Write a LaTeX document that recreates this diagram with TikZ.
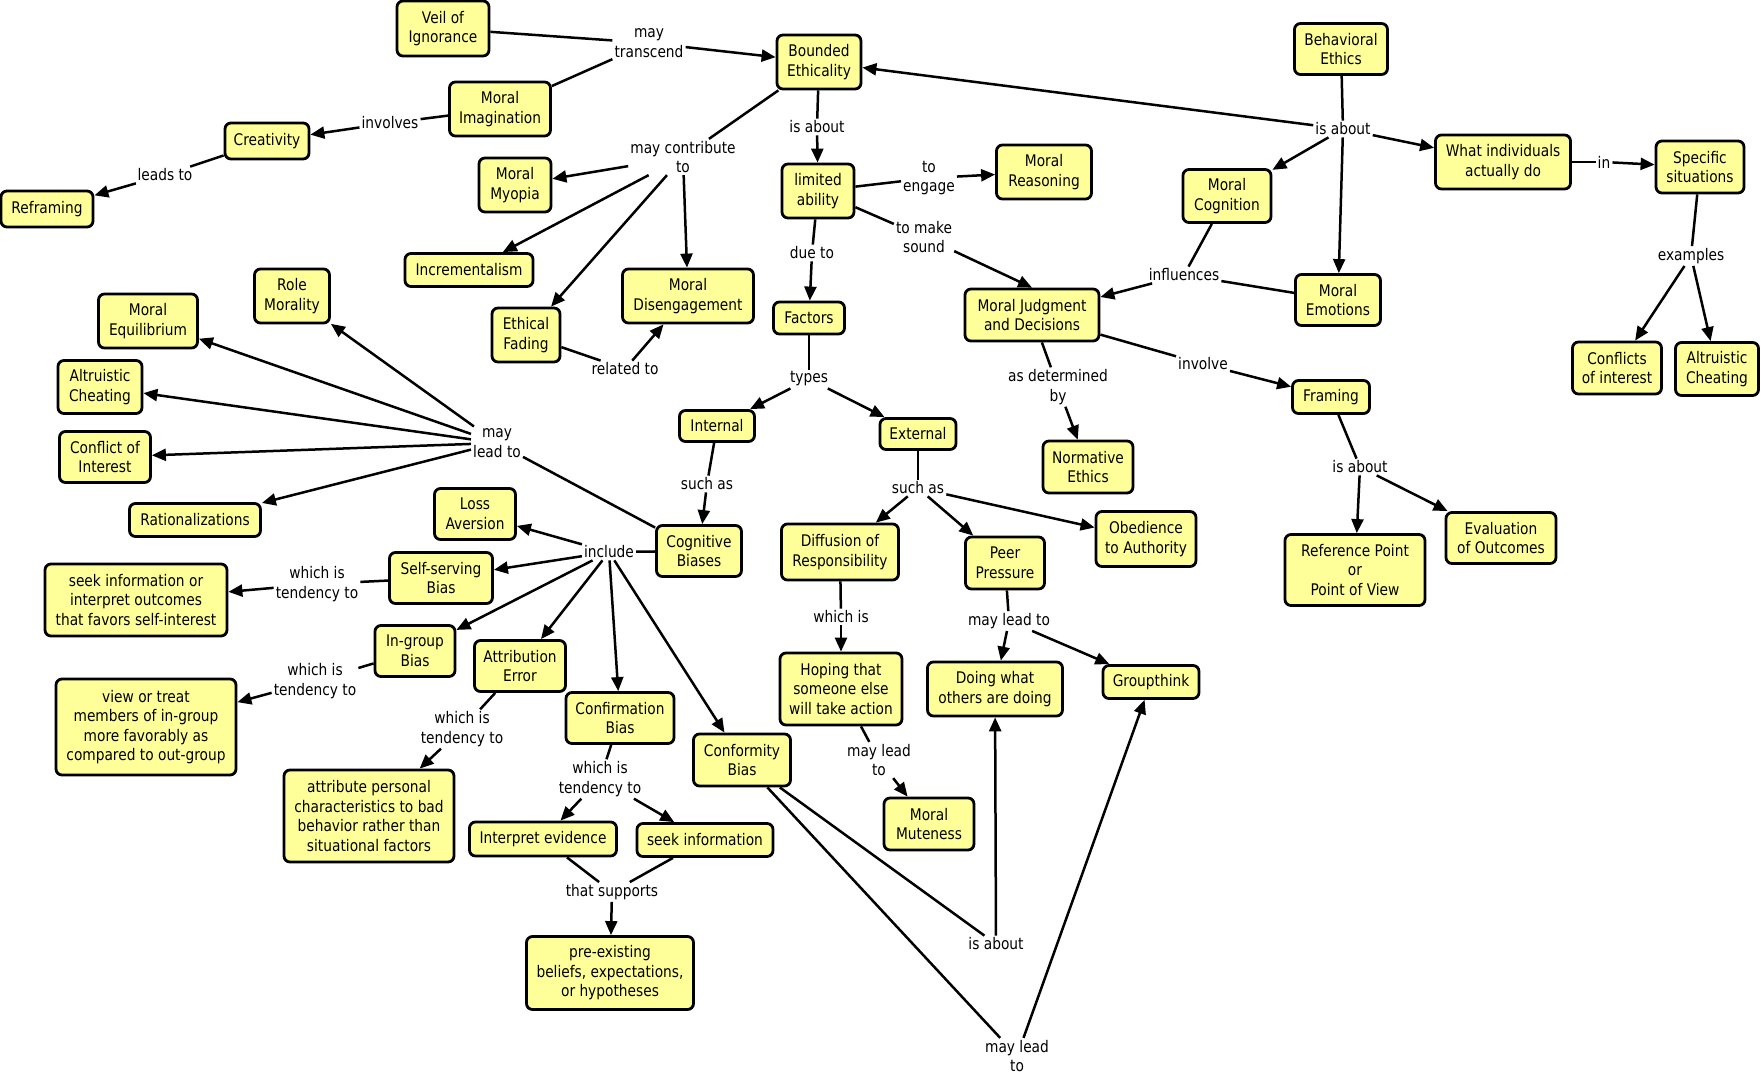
\documentclass[tikz,border=0pt]{standalone}
\usepackage{fontspec}
\setmainfont{DejaVu Sans}[FakeStretch=0.86]
\usetikzlibrary{arrows.meta}
\definecolor{cfill}{RGB}{255,255,153}
\newcommand\cmfont{\fontsize{16}{19.5}\selectfont}
\begin{document}
\begin{tikzpicture}[x=1pt,y=-1pt,
  concept/.style={draw=black, line width=2.8pt, rounded corners=6pt, fill=cfill, align=center, inner sep=0pt, font=\cmfont},
  lab/.style={align=center, inner sep=2pt, font=\cmfont},
  link/.style={line width=2.5pt},
  arr/.style={line width=2.5pt, -{Triangle[length=14pt,width=12pt]}}]
\fill[white] (0,0) rectangle (1761,1076);
\useasboundingbox (0,0) rectangle (1761,1076);

% ---------- concepts ----------
\node[concept, minimum width=92pt, minimum height=55pt] (veil) at (443,28.5) {Veil of\\Ignorance};
\node[concept, minimum width=101pt, minimum height=54pt] (mimag) at (500,109) {Moral\\Imagination};
\node[concept, minimum width=84pt, minimum height=36pt] (creat) at (267,141) {Creativity};
\node[concept, minimum width=92pt, minimum height=36pt] (refr) at (47,209) {Reframing};
\node[concept, minimum width=72pt, minimum height=54pt] (myop) at (515,185) {Moral\\Myopia};
\node[concept, minimum width=128pt, minimum height=33pt] (incr) at (469,270) {Incrementalism};
\node[concept, minimum width=75pt, minimum height=54pt] (role) at (292,296) {Role\\Morality};
\node[concept, minimum width=99pt, minimum height=54pt] (equil) at (148,321) {Moral\\Equilibrium};
\node[concept, minimum width=68pt, minimum height=54pt] (fading) at (526,335) {Ethical\\Fading};
\node[concept, minimum width=84pt, minimum height=53pt] (altl) at (100,387) {Altruistic\\Cheating};
\node[concept, minimum width=91pt, minimum height=51pt] (coil) at (105,457) {Conflict of\\Interest};
\node[concept, minimum width=131pt, minimum height=33pt] (ratio) at (195,520) {Rationalizations};
\node[concept, minimum width=81pt, minimum height=51pt] (loss) at (475,514) {Loss\\Aversion};
\node[concept, minimum width=103pt, minimum height=51pt] (selfs) at (441,578) {Self-serving\\Bias};
\node[concept, minimum width=182pt, minimum height=72pt] (seekfav) at (136,600) {seek information or\\interpret outcomes\\that favors self-interest};
\node[concept, minimum width=80pt, minimum height=51pt] (ingrp) at (415,651) {In-group\\Bias};
\node[concept, minimum width=91pt, minimum height=51pt] (attr) at (520,666) {Attribution\\Error};
\node[concept, minimum width=180pt, minimum height=96pt] (viewt) at (146,727) {view or treat\\members of in-group\\more favorably as\\compared to out-group};
\node[concept, minimum width=170pt, minimum height=92pt] (attrp) at (369,816) {attribute personal\\characteristics to bad\\behavior rather than\\situational factors};
\node[concept, minimum width=108pt, minimum height=51pt] (confb) at (620,718) {Confirmation\\Bias};
\node[concept, minimum width=97pt, minimum height=52pt] (conf) at (742,760) {Conformity\\Bias};
\node[concept, minimum width=147pt, minimum height=34pt] (interp) at (543,839) {Interpret evidence};
\node[concept, minimum width=136pt, minimum height=33pt] (seeki) at (705,840) {seek information};
\node[concept, minimum width=167pt, minimum height=73pt] (preex) at (610,973) {pre-existing\\beliefs, expectations,\\or hypotheses};
\node[concept, minimum width=84pt, minimum height=54pt] (bounded) at (819,62) {Bounded\\Ethicality};
\node[concept, minimum width=72pt, minimum height=54pt] (limab) at (818,191) {limited\\ability};
\node[concept, minimum width=95pt, minimum height=54pt] (reas) at (1044,172) {Moral\\Reasoning};
\node[concept, minimum width=131pt, minimum height=54pt] (diseng) at (688,296) {Moral\\Disengagement};
\node[concept, minimum width=71pt, minimum height=32pt] (factors) at (809,318) {Factors};
\node[concept, minimum width=134pt, minimum height=52pt] (mjd) at (1032,315) {Moral Judgment\\and Decisions};
\node[concept, minimum width=75pt, minimum height=31pt] (internal) at (717,426) {Internal};
\node[concept, minimum width=76pt, minimum height=31pt] (external) at (918,434) {External};
\node[concept, minimum width=90pt, minimum height=52pt] (norm) at (1088,467) {Normative\\Ethics};
\node[concept, minimum width=85pt, minimum height=51pt] (cogb) at (699,551) {Cognitive\\Biases};
\node[concept, minimum width=117pt, minimum height=56pt] (diff) at (840,552) {Diffusion of\\Responsibility};
\node[concept, minimum width=79pt, minimum height=52pt] (peer) at (1005,563) {Peer\\Pressure};
\node[concept, minimum width=100pt, minimum height=55pt] (obed) at (1146,539) {Obedience\\to Authority};
\node[concept, minimum width=122pt, minimum height=72pt] (hoping) at (841,689) {Hoping that\\someone else\\will take action};
\node[concept, minimum width=135pt, minimum height=54pt] (doing) at (995,689) {Doing what\\others are doing};
\node[concept, minimum width=96pt, minimum height=33pt] (group) at (1151,682) {Groupthink};
\node[concept, minimum width=90pt, minimum height=52pt] (mute) at (929,824) {Moral\\Muteness};
\node[concept, minimum width=93pt, minimum height=51pt] (behav) at (1341,49) {Behavioral\\Ethics};
\node[concept, minimum width=88pt, minimum height=53pt] (mcog) at (1227,196) {Moral\\Cognition};
\node[concept, minimum width=85pt, minimum height=51pt] (memo) at (1338,300) {Moral\\Emotions};
\node[concept, minimum width=135pt, minimum height=54pt] (what) at (1503,162) {What individuals\\actually do};
\node[concept, minimum width=88pt, minimum height=52pt] (spec) at (1700,167) {Specific\\situations};
\node[concept, minimum width=89pt, minimum height=52pt] (coir) at (1617,368) {Conflicts\\of interest};
\node[concept, minimum width=83pt, minimum height=53pt] (altr) at (1717,369) {Altruistic\\Cheating};
\node[concept, minimum width=77pt, minimum height=33pt] (framing) at (1331,397) {Framing};
\node[concept, minimum width=140pt, minimum height=71pt] (refp) at (1355,570) {Reference Point\\or\\Point of View};
\node[concept, minimum width=110pt, minimum height=51pt] (evalo) at (1501,538) {Evaluation\\of Outcomes};

% ---------- linking phrases ----------
\node[lab] (lmt) at (649,43) {may\\transcend};
\node[lab] (linv) at (390,123) {involves};
\node[lab] (llead) at (165,175) {leads to};
\node[lab] (lcontrib) at (683,157) {may contribute\\to};
\node[lab] (lisab1) at (817,127) {is about};
\node[lab] (lengage) at (929,178) {to\\engage};
\node[lab] (lsound) at (924,237) {to make\\sound};
\node[lab] (ldue) at (812,253) {due to};
\node[lab] (lrel) at (625,369) {related to};
\node[lab] (ltypes) at (809,379) {types};
\node[lab] (lsuchi) at (707,484) {such as};
\node[lab] (lsuche) at (918,488) {such as};
\node[lab] (ldet) at (1058,387) {as determined\\by};
\node[lab] (lisab2) at (1343,129) {is about};
\node[lab] (lin) at (1604,162) {in};
\node[lab] (lex) at (1691,256) {examples};
\node[lab] (linfl) at (1184,275) {influences};
\node[lab] (linvolve) at (1203,364) {involve};
\node[lab] (lisab3) at (1360,467) {is about};
\node[lab] (lmlt) at (497,443) {may\\lead to};
\node[lab] (lincl) at (609,552) {include};
\node[lab] (lwit1) at (317,584) {which is\\tendency to};
\node[lab] (lwit2) at (315,681) {which is\\tendency to};
\node[lab] (lwit3) at (462,729) {which is\\tendency to};
\node[lab] (lwit4) at (600,779) {which is\\tendency to};
\node[lab] (lsupp) at (612,892) {that supports};
\node[lab] (lwhich) at (841,617) {which is};
\node[lab] (lmlt2) at (1009,621) {may lead to};
\node[lab] (lmlt3) at (879,760) {may lead\\to};
\node[lab] (lisab4) at (996,944) {is about};
\node[lab] (lmlt4) at (1017,1056) {may lead\\to};

% ---------- connectors ----------
\draw[link] (veil) -- (lmt);
\draw[link] (mimag) -- (lmt);
\draw[arr] (lmt) -- (bounded);
\draw[link] (mimag) -- (linv);
\draw[arr] (linv) -- (creat);
\draw[link] (creat) -- (llead);
\draw[arr] (llead) -- (refr);

\draw[link] (bounded) -- (lcontrib);
\draw[arr] (lcontrib) -- (myop);
\draw[arr] (lcontrib) -- (incr);
\draw[arr] (lcontrib) -- (fading);
\draw[arr] (lcontrib) -- (diseng);
\draw[link] (fading) -- (lrel);
\draw[arr] (lrel) -- (diseng);

\draw[link] (bounded) -- (lisab1);
\draw[arr] (lisab1) -- (limab);
\draw[link] (limab) -- (lengage);
\draw[arr] (lengage) -- (reas);
\draw[link] (limab) -- (lsound);
\draw[arr] (lsound) -- (mjd.north);
\draw[link] (limab) -- (ldue);
\draw[arr] (ldue) -- (factors);
\draw[link] (factors) -- (ltypes);
\draw[arr] (ltypes) -- (internal);
\draw[arr] (ltypes) -- (external);
\draw[link] (internal) -- (lsuchi);
\draw[arr] (lsuchi) -- (cogb);
\draw[link] (external) -- (lsuche);
\draw[arr] (lsuche) -- (diff);
\draw[arr] (lsuche) -- (peer);
\draw[arr] (lsuche) -- (obed);

\draw[link] (behav) -- (lisab2);
\draw[arr] (lisab2) -- (bounded);
\draw[arr] (lisab2) -- (mcog);
\draw[arr] (lisab2) -- (memo);
\draw[arr] (lisab2) -- (what);
\draw[link] (what) -- (lin);
\draw[arr] (lin) -- (spec);
\draw[link] (spec) -- (lex);
\draw[arr] (lex) -- (coir);
\draw[arr] (lex) -- (altr);
\draw[link] (mcog) -- (linfl);
\draw[link] (memo) -- (linfl);
\draw[arr] (linfl) -- (mjd);
\draw[link] (mjd) -- (ldet);
\draw[arr] (ldet) -- (norm);
\draw[link] (mjd) -- (linvolve);
\draw[arr] (linvolve) -- (framing);
\draw[link] (framing) -- (lisab3);
\draw[arr] (lisab3) -- (refp);
\draw[arr] (lisab3) -- (evalo);

\draw[link] (cogb) -- (lmlt);
\draw[arr] (lmlt) -- (role);
\draw[arr] (lmlt) -- (equil);
\draw[arr] (lmlt) -- (altl);
\draw[arr] (lmlt) -- (coil);
\draw[arr] (lmlt) -- (ratio);

\draw[link] (cogb) -- (lincl);
\draw[arr] (lincl) -- (loss);
\draw[arr] (lincl) -- (selfs);
\draw[arr] (lincl) -- (ingrp);
\draw[arr] (lincl) -- (attr);
\draw[arr] (lincl) -- (confb);
\draw[arr] (lincl) -- (conf);

\draw[link] (selfs) -- (lwit1);
\draw[arr] (lwit1) -- (seekfav);
\draw[link] (ingrp) -- (lwit2);
\draw[arr] (lwit2) -- (viewt);
\draw[link] (attr) -- (lwit3);
\draw[arr] (lwit3) -- (attrp);
\draw[link] (confb) -- (lwit4);
\draw[arr] (lwit4) -- (interp);
\draw[arr] (lwit4) -- (seeki);
\draw[link] (interp) -- (lsupp);
\draw[link] (seeki) -- (lsupp);
\draw[arr] (lsupp) -- (preex);

\draw[link] (diff) -- (lwhich);
\draw[arr] (lwhich) -- (hoping);
\draw[link] (hoping) -- (lmlt3);
\draw[arr] (lmlt3) -- (mute);
\draw[link] (peer) -- (lmlt2);
\draw[arr] (lmlt2) -- (doing);
\draw[arr] (lmlt2) -- (group);
\draw[link] (conf) -- (lisab4);
\draw[arr] (lisab4) -- (doing);
\draw[link] (conf) -- (lmlt4);
\draw[arr] (lmlt4) -- (group);
\end{tikzpicture}
\end{document}
